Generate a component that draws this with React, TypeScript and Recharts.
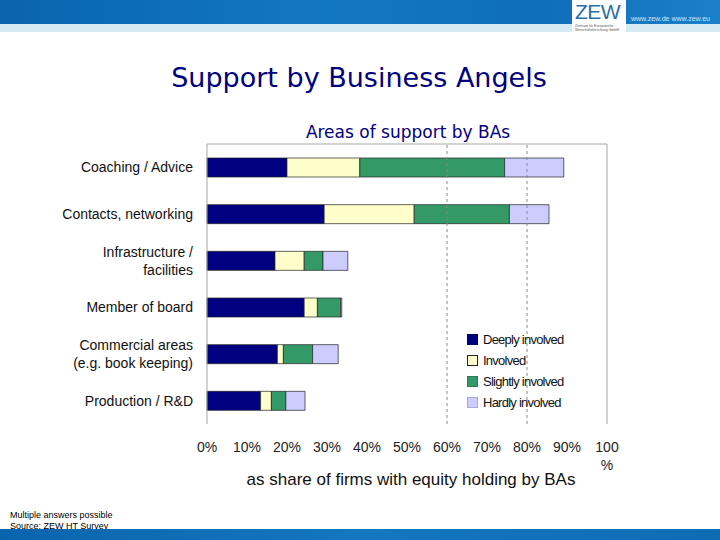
import { BarChart, Bar, XAxis, YAxis, ReferenceLine } from 'recharts'

// areas of support, top to bottom
const categories = [
  'Coaching / Advice',
  'Contacts, networking',
  'Infrastructure /\nfacilities',
  'Member of board',
  'Commercial areas\n(e.g. book keeping)',
  'Production / R&D',
]

// shares of firms in %
const deeplyInvolved = [20, 29.3, 17, 24.3, 17.6, 13.4]
const involved = [18.2, 22.5, 7.3, 3.3, 1.5, 2.7]
const slightlyInvolved = [36.2, 23.8, 4.7, 5.8, 7.3, 3.6]
const hardlyInvolved = [14.8, 9.9, 6.2, 0.3, 6.4, 4.8]

const xTicks = [0, 10, 20, 30, 40, 50, 60, 70, 80, 90, 100]

const data = categories.map((name, i) => ({
  name,
  deeply: deeplyInvolved[i],
  involved: involved[i],
  slightly: slightlyInvolved[i],
  hardly: hardlyInvolved[i],
}))

const series = [
  { key: 'deeply', label: 'Deeply involved', color: '#000080', border: '#000060' },
  { key: 'involved', label: 'Involved', color: '#FFFFCC', border: '#222' },
  { key: 'slightly', label: 'Slightly involved', color: '#339966', border: '#2a7a52' },
  { key: 'hardly', label: 'Hardly involved', color: '#CCCCFF', border: '#a8a8dd' },
]

const sans = '"Liberation Sans", Arial, sans-serif'
const gothic = '"DejaVu Sans", sans-serif'

function CategoryTick({ x, y, payload }: any) {
  const lines = String(payload.value).split('\n')
  const startY = y - ((lines.length - 1) * 18) / 2
  return (
    <text x={x} y={startY} textAnchor="end" fontFamily={sans} fontSize={14} fill="#111">
      {lines.map((l, i) => (
        <tspan key={i} x={x} y={startY + i * 18} dy="0.36em">{l}</tspan>
      ))}
    </text>
  )
}

function PercentTick({ x, y, payload }: any) {
  const v = payload.value
  if (v === 100) {
    return (
      <text x={x} y={y} textAnchor="middle" fontFamily={sans} fontSize={14} fill="#222">
        <tspan x={x} y={y}>100</tspan>
        <tspan x={x} y={y + 18}>%</tspan>
      </text>
    )
  }
  return (
    <text x={x} y={y} textAnchor="middle" fontFamily={sans} fontSize={14} fill="#222">
      {v}%
    </text>
  )
}

function LegendBox() {
  return (
    <div style={{ position: 'absolute', left: 467, top: 329, fontFamily: sans, fontSize: 13, letterSpacing: -0.75, color: '#111' }}>
      {series.map(s => (
        <div key={s.key} style={{ display: 'flex', alignItems: 'center', height: 21 }}>
          <span style={{
            display: 'inline-block', width: 9, height: 9, background: s.color,
            border: `1px solid ${s.border}`, marginRight: 5,
          }} />
          <span>{s.label}</span>
        </div>
      ))}
    </div>
  )
}

export default function App() {
  return (
    <div style={{ position: 'absolute', left: 0, top: 0, width: 720, height: 540, background: '#fff', overflow: 'hidden' }}>
      {/* header band */}
      <div style={{ position: 'absolute', left: 0, top: 0, width: 720, height: 24, background: 'linear-gradient(90deg, #0a64ad 0%, #1277c2 45%, #0f6fb8 75%, #1a80c9 100%)' }} />
      <div style={{ position: 'absolute', left: 0, top: 24, width: 720, height: 8, background: '#d5ebf3' }} />
      <div style={{ position: 'absolute', left: 572, top: 0, width: 54, height: 33, background: '#fff', borderRadius: '0 0 4px 4px' }}>
        <div style={{ position: 'absolute', left: 3, top: 1, fontFamily: sans, fontSize: 21, color: '#2a6fa8', lineHeight: '22px', letterSpacing: -0.5, whiteSpace: 'nowrap' }}>ZEW</div>
        <div style={{ position: 'absolute', left: 3, top: 24, fontFamily: sans, fontSize: 3.5, color: '#555', lineHeight: '4px', whiteSpace: 'nowrap' }}>
          Zentrum für Europäische<br />Wirtschaftsforschung GmbH
        </div>
      </div>
      <div style={{ position: 'absolute', left: 631, top: 15, fontFamily: sans, fontSize: 7, color: '#cfe6f6', whiteSpace: 'nowrap' }}>
        www.zew.de  www.zew.eu
      </div>

      {/* titles */}
      <div style={{ position: 'absolute', left: 0, top: 62, width: 718, textAlign: 'center', fontFamily: gothic, fontSize: 27, color: '#000080' }}>
        Support by Business Angels
      </div>
      <div style={{ position: 'absolute', left: 0, top: 122, width: 816, textAlign: 'center', fontFamily: gothic, fontSize: 17, color: '#000080' }}>
        Areas of support by BAs
      </div>

      <div style={{ position: 'absolute', left: 0, top: 0 }}>
        <BarChart
          width={720}
          height={540}
          data={data}
          layout="vertical"
          margin={{ top: 143, right: 113, bottom: 86, left: 0 }}
          barSize={19}
        >
          <XAxis
            type="number"
            domain={[0, 100]}
            ticks={xTicks}
            height={30}
            axisLine={false}
            tickLine={false}
            tickSize={0}
            tickMargin={28}
            interval={0}
            tick={<PercentTick />}
          />
          <XAxis
            xAxisId="top"
            orientation="top"
            type="number"
            domain={[0, 100]}
            height={1}
            tick={false}
            tickLine={false}
            axisLine={{ stroke: '#a6a6a6' }}
          />
          <YAxis
            type="category"
            dataKey="name"
            width={207}
            axisLine={{ stroke: '#a6a6a6' }}
            tickLine={false}
            tickSize={0}
            tickMargin={14}
            interval={0}
            tick={<CategoryTick />}
          />
          <ReferenceLine x={60} stroke="#8a8a8a" strokeDasharray="3 3" />
          <ReferenceLine x={80} stroke="#8a8a8a" strokeDasharray="3 3" />
          <ReferenceLine x={100} stroke="#a6a6a6" />
          {series.map(s => (
            <Bar
              key={s.key}
              dataKey={s.key}
              name={s.label}
              stackId="a"
              fill={s.color}
              stroke="#222"
              strokeWidth={0.7}
              isAnimationActive={false}
            />
          ))}
        </BarChart>
      </div>

      <LegendBox />

      <div style={{ position: 'absolute', left: 0, top: 470, width: 822, textAlign: 'center', fontFamily: sans, fontSize: 17, color: '#111' }}>
        as share of firms with equity holding by BAs
      </div>

      {/* footnote */}
      <div style={{ position: 'absolute', left: 10, top: 510, fontFamily: sans, fontSize: 9, color: '#000', lineHeight: '11px' }}>
        Multiple answers possible<br />Source: ZEW HT Survey
      </div>
      <div style={{ position: 'absolute', left: 0, top: 529, width: 720, height: 11, background: 'linear-gradient(90deg, #0a64ad 0%, #1477c0 50%, #0e6cb5 100%)' }} />
    </div>
  )
}
